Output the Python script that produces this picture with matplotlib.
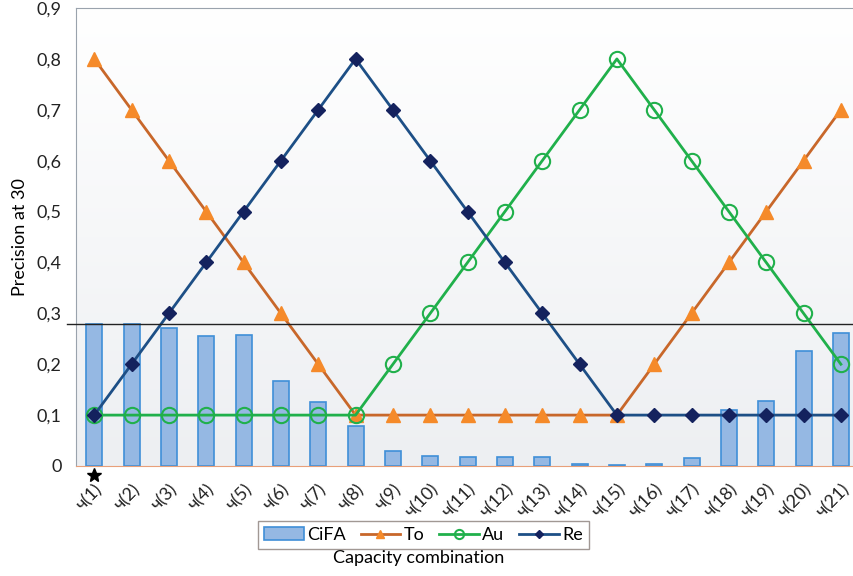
import matplotlib.pyplot as plt
import matplotlib.transforms as mtrans
import numpy as np

plt.rcParams['font.family'] = ['Lato', 'DejaVu Sans']

# data
labels = ['ч(%d)' % k for k in range(1, 22)]
cifa = [0.28, 0.28, 0.272, 0.256, 0.258, 0.168, 0.126, 0.079, 0.03, 0.02, 0.018,
        0.018, 0.018, 0.004, 0.002, 0.004, 0.016, 0.11, 0.128, 0.226, 0.261]
to = [0.8, 0.7, 0.6, 0.5, 0.4, 0.3, 0.2, 0.1, 0.1, 0.1, 0.1,
      0.1, 0.1, 0.1, 0.1, 0.2, 0.3, 0.4, 0.5, 0.6, 0.7]
au = [0.1, 0.1, 0.1, 0.1, 0.1, 0.1, 0.1, 0.1, 0.2, 0.3, 0.4,
      0.5, 0.6, 0.7, 0.8, 0.7, 0.6, 0.5, 0.4, 0.3, 0.2]
re = [0.1, 0.2, 0.3, 0.4, 0.5, 0.6, 0.7, 0.8, 0.7, 0.6, 0.5,
      0.4, 0.3, 0.2, 0.1, 0.1, 0.1, 0.1, 0.1, 0.1, 0.1]
threshold = 0.28

x = np.arange(1, len(labels) + 1)

fig = plt.figure(figsize=(8.54, 5.76), dpi=100)
ax = fig.add_axes([0.0885, 0.191, 0.918, 0.795])

# soft white-to-grey background like the original
grad = np.linspace(1, 0, 256).reshape(-1, 1)
ax.imshow(grad, extent=[0, 1, 0, 1], transform=ax.transAxes, aspect='auto',
          cmap=plt.matplotlib.colors.LinearSegmentedColormap.from_list(
              'bg', ['#edeff2', '#ffffff']), zorder=0)

bars = ax.bar(x, cifa, width=0.43, color='#95b8e3', edgecolor='#3f8fd8',
              linewidth=1.2, label='CiFA', zorder=2)
l_to, = ax.plot(x, to, color='#c8672a', lw=2, marker='^', ms=10, mfc='#f58a2a',
                mec='#f58a2a', label='To', zorder=3)
l_au, = ax.plot(x, au, color='#20b04b', lw=2, marker='o', ms=11, mfc='none',
                mec='#20b04b', mew=1.5, label='Au', zorder=4)
l_re, = ax.plot(x, re, color='#1d4f86', lw=2, marker='D', ms=7, mfc='#14225e',
                mec='#14225e', label='Re', zorder=5)

ax.axhline(threshold, xmin=-0.011, xmax=1, color='#222222', lw=1, clip_on=False,
           zorder=6)
ax.plot(1, 0, marker='*', color='black', ms=10, clip_on=False,
        transform=ax.transData + mtrans.ScaledTranslation(
            0, -0.095, fig.dpi_scale_trans), zorder=7)

ax.set_xlim(0.5, 21.5)
ax.set_ylim(0, 0.9)
ax.set_yticks(np.arange(0, 0.91, 0.1))
ax.set_yticklabels(['0'] + ['0,%d' % k for k in range(1, 10)], fontsize=13,
                   color='#222222')
ax.set_xticks(x)
ax.set_xticklabels(labels, rotation=45, ha='right', rotation_mode='anchor',
                   fontsize=13, color='#222222')
# nudge the rotated labels a little to the right, as in the original
for lab in ax.get_xticklabels():
    lab.set_transform(lab.get_transform() +
                      mtrans.ScaledTranslation(0.14, 0, fig.dpi_scale_trans))
ax.tick_params(length=0, pad=10)
ax.tick_params(axis='x', pad=11)

for s in ['left', 'top', 'right']:
    ax.spines[s].set_color('#9aa3ad')
ax.spines['bottom'].set_color('#e8a07a')

ax.set_ylabel('Precision at 30', fontsize=13, labelpad=6)
fig.text(0.49, 0.022, 'Capacity combination', ha='center', fontsize=13)

leg = fig.legend([bars, l_to, l_au, l_re], ['CiFA', 'To', 'Au', 'Re'],
                 loc='center', bbox_to_anchor=(0.496, 0.071), ncol=4,
                 fontsize=13, frameon=True, fancybox=False, handlelength=2.2,
                 handletextpad=0.2, columnspacing=0.8, borderpad=0.35,
                 markerscale=0.6)
leg.get_frame().set_edgecolor('#8a7f7a')

plt.savefig('out.png', dpi=100)
